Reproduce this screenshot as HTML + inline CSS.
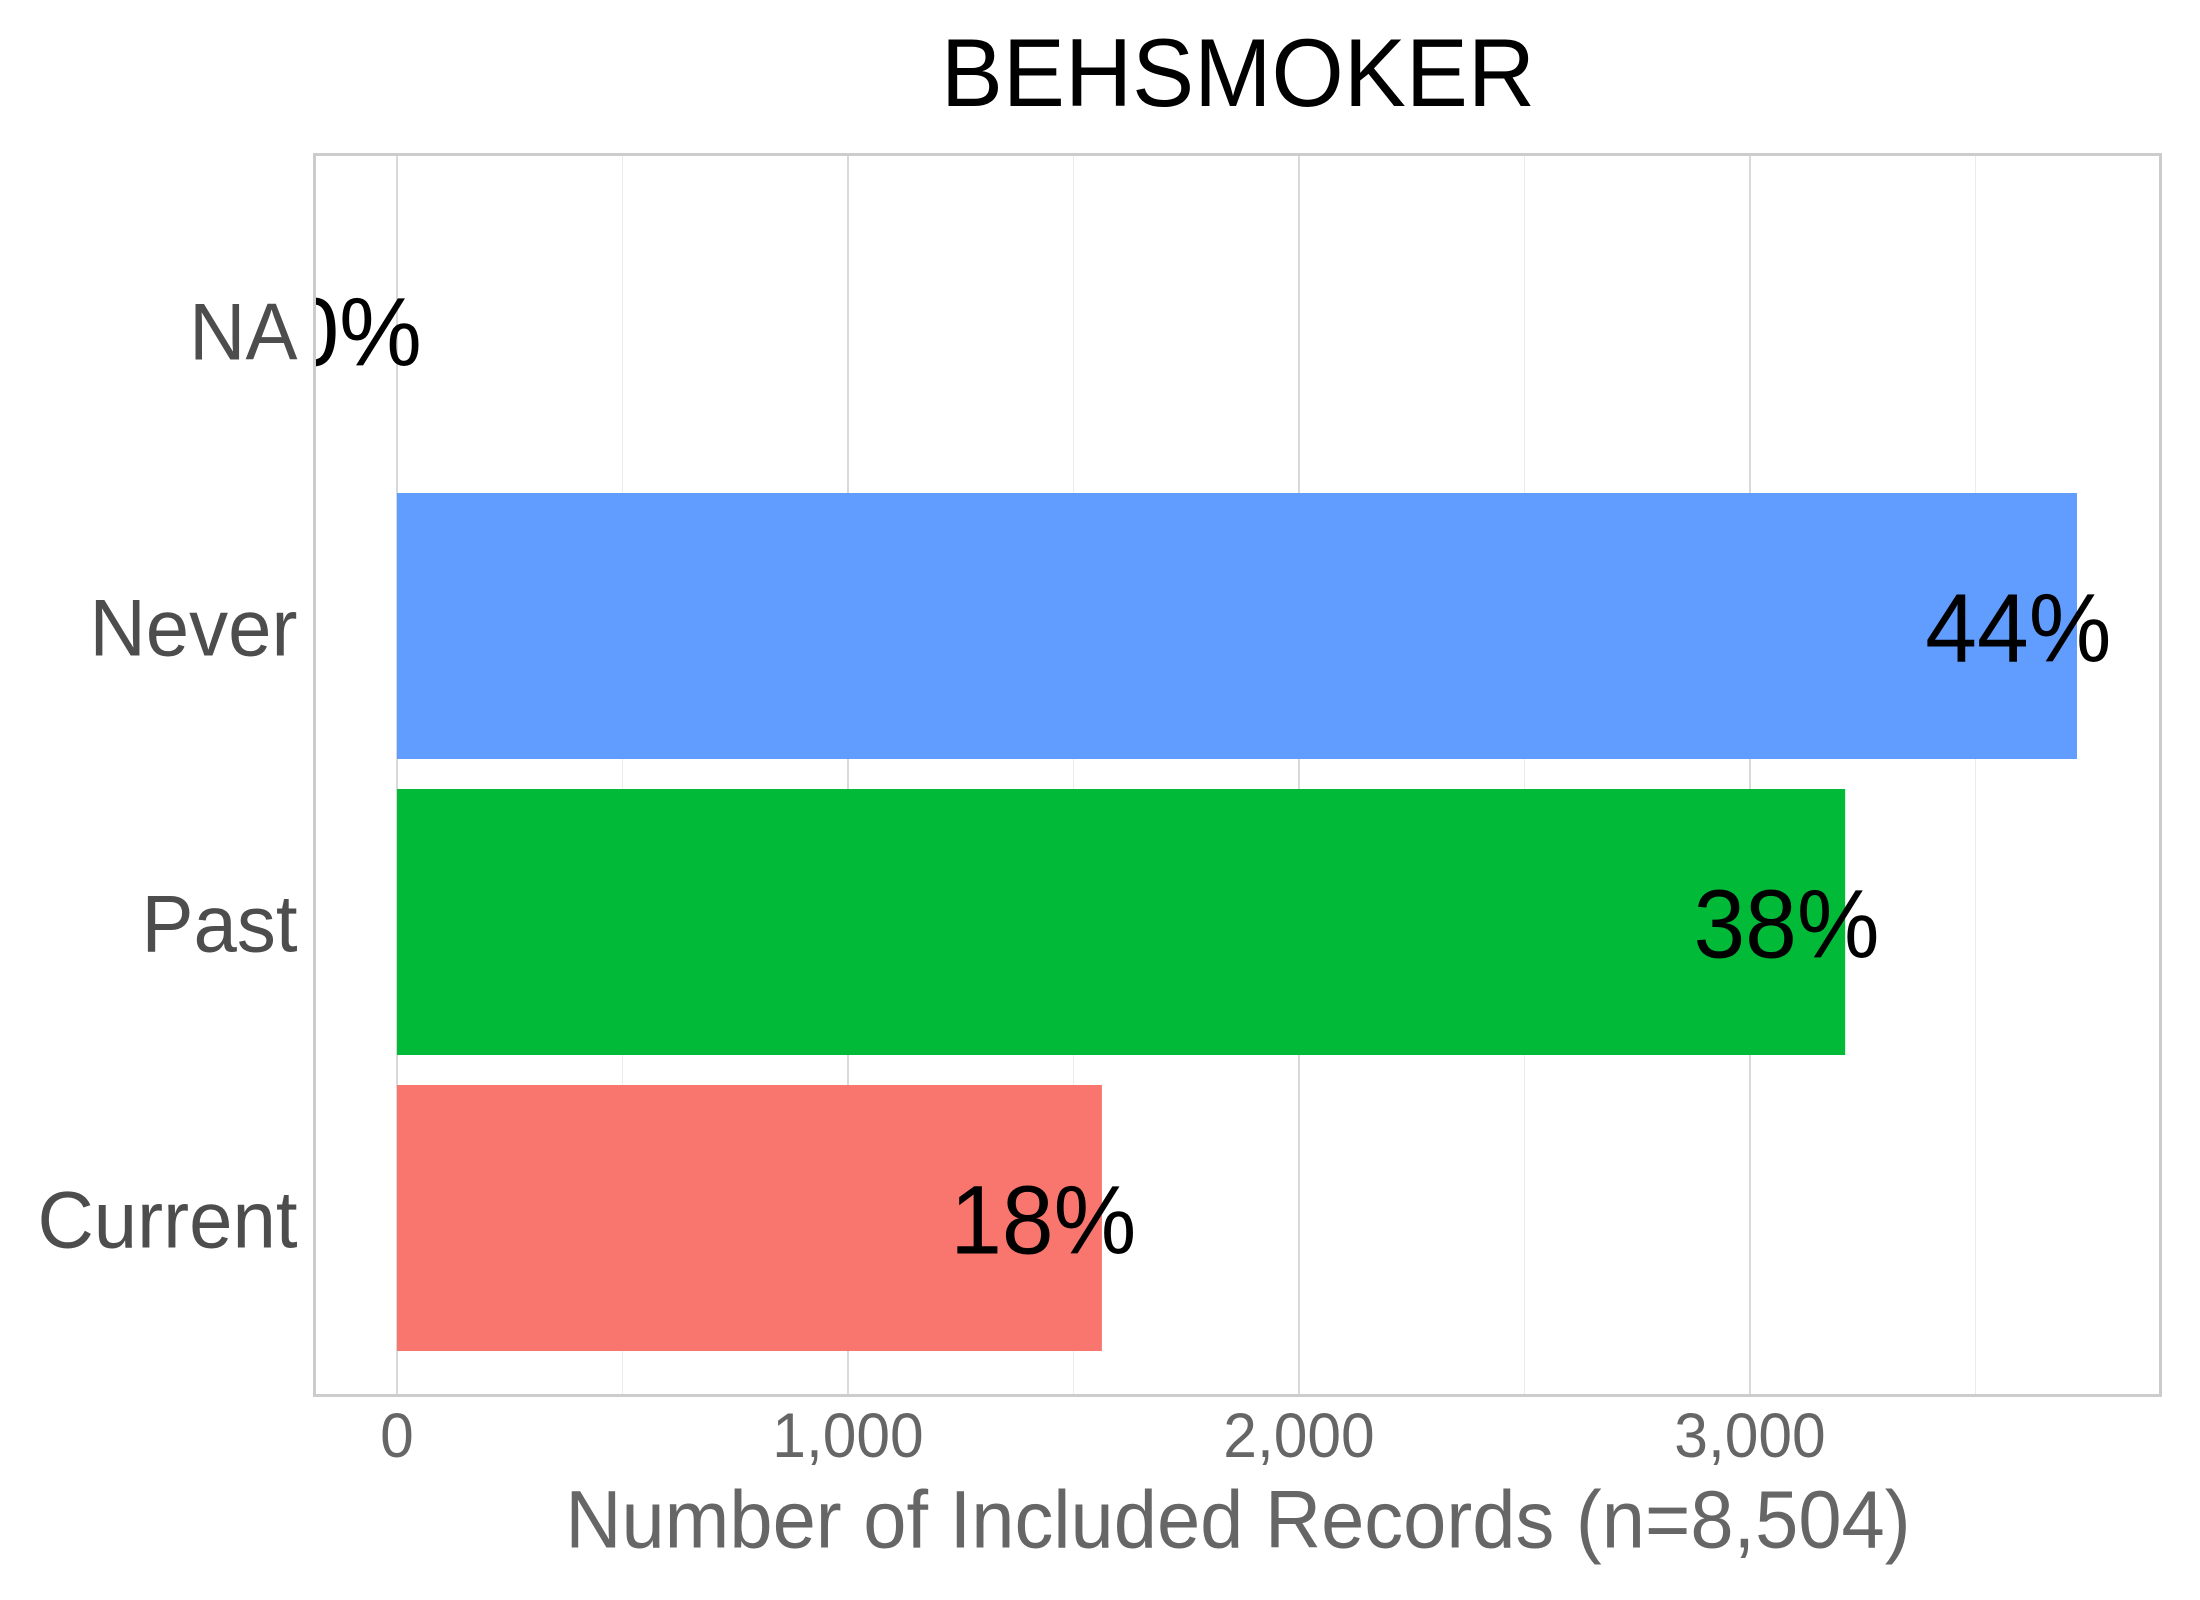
<!DOCTYPE html>
<html lang="en">
<head>
<meta charset="utf-8">
<title>BEHSMOKER</title>
<style>
html,body{margin:0;padding:0;background:#fff;}
svg{display:block;}
text{font-family:"Liberation Sans",Arial,sans-serif;}
</style>
</head>
<body>
<svg id="chart" xmlns="http://www.w3.org/2000/svg" width="2200" height="1600" viewBox="0 0 2200 1600">
  <rect x="0" y="0" width="2200" height="1600" fill="#ffffff"/>
  <defs>
    <clipPath id="panel-clip"><rect x="314.5" y="154.5" width="1846" height="1241"/></clipPath>
  </defs>
  <text id="chart-title" x="1238" y="106" font-size="93" fill="#000000" text-anchor="middle">BEHSMOKER</text>
  <g id="grid"></g>
  <g id="bars"></g>
  <g id="labels" clip-path="url(#panel-clip)"></g>
  <rect x="314.5" y="154.5" width="1846" height="1241" fill="none" stroke="#cccccc" stroke-width="3"/>
  <g id="y-axis"></g>
  <g id="x-axis"></g>
  <text id="x-title" x="1238" y="1547.5" font-size="77.7" fill="#666666" text-anchor="middle">Number of Included Records (n=8,504)</text>
</svg>
<script>
const categories = ["Current", "Past", "Never", "NA"];
const seriesValues = [1563, 3211, 3725, 0];
const percentLabels = ["18%", "38%", "44%", "0%"];
const majorTicks = [0, 1000, 2000, 3000];
const majorTickLabels = ["0", "1,000", "2,000", "3,000"];
const minorTicks = [500, 1500, 2500, 3500];

const barColors = { "Current": "#F8766D", "Past": "#00BA38", "Never": "#619CFF", "NA": "#7F7F7F" };
const SVG_NS = "http://www.w3.org/2000/svg";

function xScale(v) { return 397 + v * 0.451; }
function yScale(i) { return 1218 - i * 296; }
const BAR_HEIGHT = 266;
const PANEL_TOP = 155;
const PANEL_BOTTOM = 1395;

function mk(parent, tag, props, content) {
  const el = document.createElementNS(SVG_NS, tag);
  for (const k in props) el.setAttribute(k, props[k]);
  if (content !== undefined) el.textContent = content;
  parent.appendChild(el);
  return el;
}

/* Stretch text vertically about its baseline so cap height matches the reference. */
function stretch(el, s) {
  const y = parseFloat(el.getAttribute("y"));
  el.setAttribute("transform", "matrix(1 0 0 " + s + " 0 " + (y * (1 - s)) + ")");
}

stretch(document.getElementById("chart-title"), 1.04);
stretch(document.getElementById("x-title"), 1.055);

const grid = document.getElementById("grid");
minorTicks.forEach(function (t) {
  const line = mk(grid, "line", { x1: xScale(t), x2: xScale(t), y1: PANEL_TOP, y2: PANEL_BOTTOM, stroke: "#ebebeb", "stroke-width": 1, "shape-rendering": "crispEdges" });
  
  
});
majorTicks.forEach(function (t) {
  const line = mk(grid, "line", { x1: xScale(t), x2: xScale(t), y1: PANEL_TOP, y2: PANEL_BOTTOM, stroke: "#d9d9d9", "stroke-width": 2, "shape-rendering": "crispEdges" });
  
  
});

const barsGroup = document.getElementById("bars");
const labelsGroup = document.getElementById("labels");
const yAxis = document.getElementById("y-axis");
const xAxis = document.getElementById("x-axis");

categories.forEach(function (cat, i) {
  const cy = yScale(i);
  const bar = mk(barsGroup, "rect", {
    x: xScale(0),
    y: cy - BAR_HEIGHT / 2,
    width: xScale(seriesValues[i]) - xScale(0),
    height: BAR_HEIGHT,
    fill: barColors[cat]
  });
  
  

  const label = mk(labelsGroup, "text", {
    x: xScale(seriesValues[i]),
    y: cy + 35.5,
    "font-size": 93,
    fill: "#000000",
    "text-anchor": "start"
  }, percentLabels[i]);
  
  
  label.setAttribute("x", xScale(seriesValues[i]) - 0.815 * label.getComputedTextLength());
  stretch(label, 1.05);

  const tick = mk(yAxis, "text", {
    x: 297.5,
    y: cy + 29.7,
    "font-size": 78,
    fill: "#4d4d4d",
    "text-anchor": "end"
  }, cat);
  
  
  stretch(tick, 1.037);
});

majorTicks.forEach(function (t, i) {
  const tick = mk(xAxis, "text", {
    x: xScale(t),
    y: 1457,
    "font-size": 60.5,
    fill: "#666666",
    "text-anchor": "middle"
  }, majorTickLabels[i]);
  
  
  stretch(tick, 1.04);
});
</script>
</body>
</html>
